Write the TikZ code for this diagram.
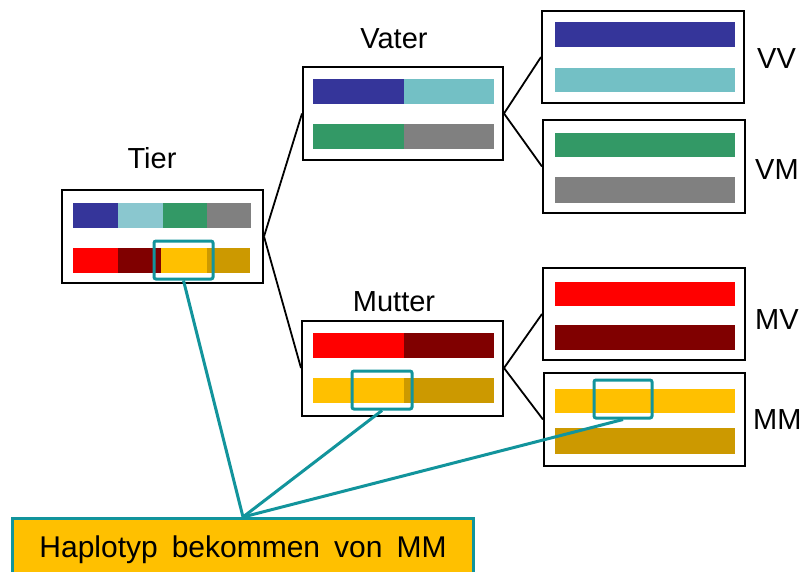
\documentclass[tikz,border=0pt]{standalone}
\usepackage{fontspec}
\setmainfont{Liberation Sans}
\definecolor{cblue}{HTML}{35359A}
\definecolor{cteal}{HTML}{73C0C5}
\definecolor{ctealL}{HTML}{8AC7CF}
\definecolor{cgreen}{HTML}{339966}
\definecolor{cgray}{HTML}{808080}
\definecolor{cred}{HTML}{FF0000}
\definecolor{cdred}{HTML}{800000}
\definecolor{cyel}{HTML}{FFC000}
\definecolor{cgold}{HTML}{CC9900}
\definecolor{hl}{HTML}{12949C}
\begin{document}
\begin{tikzpicture}[x=1pt,y=-1pt,
  gbox/.style={draw=black,line width=2pt,fill=white,inner sep=0pt,rectangle},
  conn/.style={draw=black,line width=1.8pt},
  hlbox/.style={draw=hl,line width=3pt,rounded corners=2pt,inner sep=0pt,minimum height=38pt},
  hlline/.style={draw=hl,line width=3pt},
  lbl/.style={font=\fontsize{29}{34}\selectfont,inner sep=0pt}]
\useasboundingbox (0,0) rectangle (805,571);

% boxes
\node[gbox,minimum width=201pt,minimum height=93pt] (tier) at (162.5,236.5) {};
\node[gbox,minimum width=200pt,minimum height=93pt] (vater) at (403,113.5) {};
\node[gbox,minimum width=201pt,minimum height=95pt] (mutter) at (402.5,368) {};
\node[gbox,minimum width=202pt,minimum height=92pt] (vv) at (643,57) {};
\node[gbox,minimum width=202pt,minimum height=93pt] (vm) at (644,166.5) {};
\node[gbox,minimum width=202pt,minimum height=92pt] (mv) at (644,314) {};
\node[gbox,minimum width=201pt,minimum height=93pt] (mm) at (644.5,419.5) {};

% connectors
\draw[conn] (tier.east) -- (vater.west);
\draw[conn] (tier.east) -- (mutter.west);
\draw[conn] (vater.east) -- (vv.west);
\draw[conn] (vater.east) -- (vm.west);
\draw[conn] (mutter.east) -- (mv.west);
\draw[conn] (mutter.east) -- (mm.west);

% Tier bars
\fill[cblue] (73,203) rectangle (118,228);
\fill[ctealL] (118,203) rectangle (163,228);
\fill[cgreen] (163,203) rectangle (207,228);
\fill[cgray] (207,203) rectangle (251,228);
\fill[cred] (73,248) rectangle (118,273);
\fill[cdred] (118,248) rectangle (161,273);
\fill[cyel] (161,248) rectangle (207,273);
\fill[cgold] (207,248) rectangle (250,273);
% Vater bars
\fill[cblue] (313,79) rectangle (404,104);
\fill[cteal] (404,79) rectangle (494,104);
\fill[cgreen] (313,124) rectangle (404,149);
\fill[cgray] (404,124) rectangle (494,149);
% Mutter bars
\fill[cred] (313,333) rectangle (404,358);
\fill[cdred] (404,333) rectangle (494,358);
\fill[cyel] (313,378) rectangle (404,403);
\fill[cgold] (404,378) rectangle (494,403);
% VV, VM, MV, MM bars
\fill[cblue] (555,22) rectangle (735,47);
\fill[cteal] (555,68) rectangle (735,92);
\fill[cgreen] (555,133) rectangle (735,157);
\fill[cgray] (555,177) rectangle (735,203);
\fill[cred] (555,282) rectangle (735,306);
\fill[cdred] (555,325) rectangle (735,350);
\fill[cyel] (555,389) rectangle (735,413);
\fill[cgold] (555,428) rectangle (735,454);

% labels
\node[lbl,anchor=base] (ltier) at (152,168) {Tier};
\node[lbl,anchor=base] (lvater) at (394,48) {Vater};
\node[lbl,anchor=base] (lmutter) at (394,311) {Mutter};
\node[lbl,anchor=base west] (lvv) at (757,68) {VV};
\node[lbl,anchor=base west] (lvm) at (755,179) {VM};
\node[lbl,anchor=base west] (lmv) at (755,329) {MV};
\node[lbl,anchor=base west] (lmm) at (753,429) {MM};

% highlight boxes
\node[hlbox,minimum width=59pt] (h1) at (183.5,260) {};
\node[hlbox,minimum width=60pt] (h2) at (382,390) {};
\node[hlbox,minimum width=58pt] (h3) at (623,399) {};

% bottom box
\node[draw=hl,line width=3pt,fill=cyel,inner sep=0pt,minimum width=461pt,minimum height=58pt] (note) at (242.5,547) {};
\node[inner sep=0pt,anchor=base,font={\fontsize{30}{36}\selectfont\spaceskip=14pt\relax}] (notetext) at (243,557) {Haplotyp bekommen von MM};
\coordinate (apex) at (243,517);

\draw[hlline] (apex) -- (h1.south);
\draw[hlline] (apex) -- (h2.south);
\draw[hlline] (apex) -- (h3.south);
\end{tikzpicture}
\end{document}
